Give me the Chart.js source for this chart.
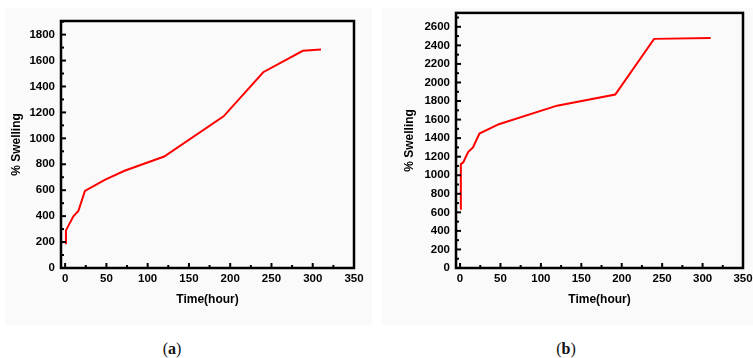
<!DOCTYPE html>
<html>
<head>
<meta charset="utf-8">
<script src="https://cdn.jsdelivr.net/npm/chart.js@4.4.0/dist/chart.umd.min.js"></script>
<style>
  html, body { margin: 0; padding: 0; background: #fff; overflow: hidden; }
  body { width: 753px; height: 358px; position: relative; }
  .panel { position: absolute; background: #fafafa; }
  canvas { position: absolute; top: 0; }
  .cap { position: absolute; top: 340px; font-family: "Liberation Serif", serif; font-size: 16px; color: #111; transform: translateX(-50%); }
</style>
</head>
<body>
<div class="panel" style="left:5px;top:8px;width:367px;height:317px"></div>
<div class="panel" style="left:382px;top:8px;width:371px;height:317px"></div>
<canvas id="chartA" width="376" height="330" style="left:0px"></canvas>
<canvas id="chartB" width="400" height="330" style="left:380px"></canvas>
<div class="cap" style="left:172px">(<b>a</b>)</div>
<div class="cap" style="left:566px">(<b>b</b>)</div>
<script>
const hoursA = [0, 1, 10, 16, 24, 48, 72, 120, 192, 240, 288, 310];
const swellA = [190, 290, 398, 440, 595, 680, 750, 860, 1170, 1510, 1675, 1685];

const hoursB = [0, 1, 4, 10, 16, 24, 48, 120, 192, 240, 310];
const swellB = [640, 1120, 1140, 1250, 1300, 1450, 1550, 1750, 1870, 2470, 2480];

const xTitle = "Time(hour)";
const yTitle = "% Swelling";

// frame + inward major/minor ticks like the origin plot
const framePlugin = {
  id: "frame",
  afterDraw(chart, args, opts) {
    const {ctx, chartArea: a, scales} = chart;
    ctx.save();
    ctx.strokeStyle = "#000";
    ctx.lineWidth = 2;
    const xs = scales.x;
    for (let v = 0; v <= xs.max; v += opts.xMinor) {
      const px = xs.getPixelForValue(v);
      const major = v % opts.xMajor === 0;
      ctx.beginPath();
      ctx.moveTo(px, a.bottom);
      ctx.lineTo(px, a.bottom - (major ? 5 : 3));
      ctx.stroke();
    }
    const ys = scales.y;
    for (let v = 0; v <= ys.max; v += opts.yMinor) {
      const py = ys.getPixelForValue(v);
      const major = v % opts.yMajor === 0;
      ctx.beginPath();
      ctx.moveTo(a.left, py);
      ctx.lineTo(a.left + (major ? 5 : 3), py);
      ctx.stroke();
    }
    ctx.lineWidth = 2.5;
    ctx.strokeRect(a.left, a.top, a.right - a.left, a.bottom - a.top);
    ctx.restore();
  }
};

function makeChart(id, hours, swell, yMax, yStep, pad, yWidth, yTitlePad) {
  const pts = hours.map((h, i) => ({x: h, y: swell[i]}));
  const tickFont = {family: "'Liberation Sans', Arial, sans-serif", size: 11.5, weight: "bold"};
  const titleFont = {family: "'Liberation Sans', Arial, sans-serif", size: 12, weight: "bold"};
  return new Chart(id, {
    type: "line",
    data: {
      datasets: [{
        data: pts,
        borderColor: "#ff0000",
        borderWidth: 2,
        pointRadius: 0,
        tension: 0,
        fill: false
      }]
    },
    options: {
      responsive: false,
      animation: false,
      layout: {padding: pad},
      plugins: {
        legend: {display: false},
        tooltip: {enabled: false},
        frame: {xMinor: 25, xMajor: 50, yMinor: yStep / 2, yMajor: yStep}
      },
      scales: {
        x: {
          type: "linear",
          min: -5,
          max: 350,
          grid: {display: false, drawTicks: false},
          border: {display: false},
          ticks: {stepSize: 50, includeBounds: false, autoSkip: false, maxRotation: 0,
                  padding: 4, color: "#000", font: tickFont,
                  callback: (v) => String(v)},
          title: {display: true, text: xTitle, color: "#000", font: titleFont,
                  padding: {top: 4, bottom: 23}},
          afterFit: (s) => { s.height = 62; }
        },
        y: {
          min: 0,
          max: yMax,
          grid: {display: false, drawTicks: false},
          border: {display: false},
          ticks: {stepSize: yStep, includeBounds: false, autoSkip: false,
                  padding: 6, color: "#000", font: tickFont,
                  callback: (v) => String(v)},
          title: {display: true, text: yTitle, color: "#000", font: titleFont,
                  padding: {top: yTitlePad, bottom: 4}},
          afterFit: (s) => { s.width = yWidth; }
        }
      }
    },
    plugins: [framePlugin]
  });
}

makeChart("chartA", hoursA, swellA, 1905, 200, {left: 0, top: 21, right: 22, bottom: 0}, 61, 9.5);
makeChart("chartB", hoursB, swellB, 2750, 200, {left: 0, top: 11, right: 37, bottom: 0}, 76, 22);
</script>
</body>
</html>
